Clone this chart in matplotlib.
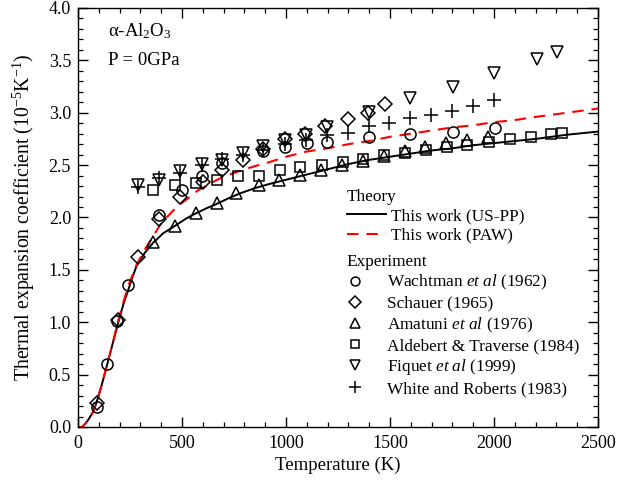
import matplotlib
matplotlib.use("Agg")
import matplotlib.pyplot as plt
from matplotlib.ticker import MultipleLocator

plt.rcParams["font.family"] = ["Liberation Serif", "DejaVu Serif"]
plt.rcParams["mathtext.fontset"] = "custom"
plt.rcParams["mathtext.rm"] = "Liberation Serif"
plt.rcParams["mathtext.it"] = "Liberation Serif:italic"
plt.rcParams["mathtext.bf"] = "Liberation Serif:bold"
plt.rcParams["font.size"] = 13

# Theory curves
T_uspp = [0, 20, 34, 50, 74, 90, 114, 134, 154, 174, 194, 218, 242, 262, 282, 320, 362,
          410, 466, 520, 567, 620, 667, 720, 779, 850, 920, 1000, 1100, 1200, 1300, 1400,
          1500, 1600, 1700, 1800, 1900, 2000, 2100, 2200, 2350, 2500]
a_uspp = [0.0, 0.0, 0.03, 0.07, 0.15, 0.24, 0.40, 0.55, 0.70, 0.85, 1.00, 1.17, 1.31, 1.43,
          1.54, 1.66, 1.76, 1.85, 1.92, 1.99, 2.04, 2.09, 2.13, 2.18, 2.23, 2.28, 2.32,
          2.36, 2.41, 2.46, 2.51, 2.55, 2.58, 2.61, 2.64, 2.66, 2.69, 2.71, 2.73, 2.75,
          2.79, 2.82]

T_paw = [0, 20, 34, 50, 74, 90, 114, 134, 154, 174, 194, 218, 242, 262, 282, 320, 354,
         402, 474, 520, 578, 640, 700, 771, 850, 907, 1000, 1100, 1200, 1300, 1400, 1500,
         1600, 1700, 1800, 1900, 2000, 2100, 2200, 2350, 2500]
a_paw = [0.0, 0.0, 0.03, 0.07, 0.15, 0.24, 0.40, 0.55, 0.70, 0.86, 1.02, 1.19, 1.35, 1.45,
         1.55, 1.69, 1.80, 1.95, 2.10, 2.17, 2.26, 2.33, 2.39, 2.44, 2.49, 2.52, 2.58,
         2.63, 2.66, 2.70, 2.73, 2.77, 2.80, 2.83, 2.86, 2.88, 2.91, 2.93, 2.96, 3.00, 3.04]

# Experiments
T_wachtman = [90, 138, 186, 239, 391, 498, 595, 691, 891, 995, 1099, 1196, 1401, 1596, 1801, 2005]
a_wachtman = [0.19, 0.60, 1.01, 1.36, 2.02, 2.26, 2.40, 2.52, 2.63, 2.67, 2.71, 2.72, 2.77,
              2.80, 2.82, 2.85]

T_schauer = [90, 191, 290, 391, 490, 603, 691, 792, 891, 995, 1091, 1187, 1296, 1396, 1475]
a_schauer = [0.23, 1.02, 1.62, 1.99, 2.20, 2.34, 2.45, 2.55, 2.65, 2.75, 2.80, 2.87, 2.94,
             3.00, 3.08]

T_amatuni = [362, 466, 567, 667, 760, 872, 968, 1067, 1170, 1270, 1370, 1470, 1570, 1670,
             1770, 1870, 1970]
a_amatuni = [1.77, 1.92, 2.04, 2.14, 2.23, 2.31, 2.36, 2.41, 2.45, 2.50, 2.54, 2.59, 2.63,
             2.67, 2.71, 2.74, 2.77]

T_aldebert = [362, 466, 567, 667, 771, 870, 971, 1067, 1172, 1272, 1372, 1471, 1572, 1673,
              1772, 1872, 1977, 2077, 2176, 2272, 2325]
a_aldebert = [2.26, 2.31, 2.33, 2.36, 2.40, 2.40, 2.45, 2.48, 2.50, 2.53, 2.56, 2.60, 2.62,
              2.64, 2.67, 2.69, 2.72, 2.75, 2.77, 2.80, 2.81]

T_fiquet = [290, 391, 490, 595, 691, 792, 891, 995, 1096, 1196, 1401, 1596, 1801, 2001, 2205, 2301]
a_fiquet = [2.31, 2.36, 2.44, 2.51, 2.55, 2.62, 2.68, 2.74, 2.79, 2.86, 3.01, 3.14, 3.25,
            3.38, 3.51, 3.58]

T_white = [290, 391, 490, 595, 691, 792, 891, 995, 1096, 1196, 1300, 1401, 1497, 1596,
           1696, 1796, 1900, 2000]
a_white = [2.29, 2.38, 2.42, 2.50, 2.56, 2.60, 2.64, 2.70, 2.74, 2.79, 2.81, 2.87, 2.90,
           2.95, 2.98, 3.02, 3.06, 3.12]

fig = plt.figure(figsize=(6.2, 4.84), dpi=100)
ax = fig.add_axes([0.1258, 0.1178, 0.8387, 0.8657])

l1, = ax.plot(T_uspp, a_uspp, color="black", lw=1.4, label="This work (US-PP)")
l2, = ax.plot(T_paw, a_paw, color="red", lw=1.5, dashes=(5.5, 3.8), label="This work (PAW)")

mk = dict(linestyle="none", mfc="none", mec="black", mew=1.1, color="black")
p1, = ax.plot(T_wachtman, a_wachtman, marker="o", ms=8, label="Wachtman $et\\ al$ (1962)", **mk)
p2, = ax.plot(T_schauer, a_schauer, marker="D", ms=7.3, label="Schauer (1965)", **mk)
p3, = ax.plot(T_amatuni, a_amatuni, marker="^", ms=9, label="Amatuni $et\\ al$ (1976)", **mk)
p4, = ax.plot(T_aldebert, a_aldebert, marker="s", ms=7.5, label="Aldebert & Traverse (1984)", **mk)
p5, = ax.plot(T_fiquet, a_fiquet, marker="v", ms=9, label="Fiquet $et\\ al$ (1999)", **mk)
p6, = ax.plot(T_white, a_white, marker="+", ms=10, label="White and Roberts (1983)", **mk)

ax.set_xlim(0, 2500)
ax.set_ylim(0, 4.0)
ax.xaxis.set_major_locator(MultipleLocator(500))
ax.xaxis.set_minor_locator(MultipleLocator(100))
ax.yaxis.set_major_locator(MultipleLocator(0.5))
ax.yaxis.set_minor_locator(MultipleLocator(0.1))
ax.yaxis.set_major_formatter(lambda v, pos: f"{v:.1f}")
ax.tick_params(which="both", direction="in", top=True, right=True, labelsize=13)
ax.tick_params(axis="x", which="both", pad=6)
ax.tick_params(axis="y", which="both", pad=5)
ax.tick_params(which="major", length=7, width=1.0)
ax.tick_params(which="minor", length=3.5, width=0.9)
for s in ax.spines.values():
    s.set_linewidth(1.0)

ax.set_xlabel("Temperature (K)", fontsize=13.5, labelpad=3)
ax.set_ylabel("Thermal expansion coefficient (10$^{-5}$K$^{-1}$)", fontsize=14.3, labelpad=8)

ax.text(0.058, 0.945, "α-Al$_2$O$_3$", transform=ax.transAxes, fontsize=13.5, va="center")
ax.text(0.058, 0.875, "P = 0GPa", transform=ax.transAxes, fontsize=13.5, va="center")

leg1 = ax.legend(handles=[l1, l2], title="Theory", loc="upper left",
                 bbox_to_anchor=(0.5165, 0.569), frameon=False, alignment="left",
                 handlelength=2.3, handletextpad=0.3, labelspacing=0.2,
                 borderpad=0, borderaxespad=0, fontsize=12.4, title_fontsize=12.4)
ax.add_artist(leg1)
ax.legend(handles=[p1, p2, p3, p4, p5, p6], title="Experiment", loc="upper left",
          bbox_to_anchor=(0.5165, 0.4136), frameon=False, alignment="left",
          handlelength=1.0, handletextpad=1.35, labelspacing=0.2, markerscale=0.8,
          borderpad=0, borderaxespad=0, fontsize=12.4, title_fontsize=12.4)

fig.savefig("out.png", dpi=100)
